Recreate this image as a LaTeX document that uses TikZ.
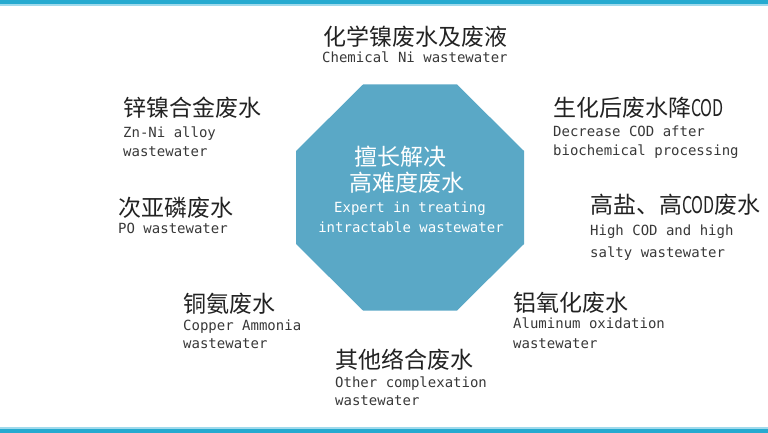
\documentclass[tikz,border=0pt]{standalone}
\usepackage{fontspec}
\usepackage{xcolor}
\newfontfamily\cjkfont{Noto Sans CJK SC}
\newfontfamily\enmono{DejaVu Sans Mono}
\definecolor{barcyan}{RGB}{38,170,208}
\definecolor{barlight}{RGB}{160,218,236}
\definecolor{octblue}{RGB}{90,168,198}
\definecolor{inkgray}{RGB}{34,34,34}
\newcommand{\narrowcod}{\scalebox{0.7}[1]{COD}}
\begin{document}
\begin{tikzpicture}[x=1pt,y=-1pt,
  cntext/.style={inner sep=0pt,anchor=west,text=inkgray,font=\cjkfont\fontsize{23}{23}\selectfont},
  entext/.style={inner sep=0pt,anchor=base west,text=inkgray!90,font=\enmono\fontsize{14}{14}\selectfont},
  cncore/.style={inner sep=0pt,text=white,font=\cjkfont\fontsize{23}{23}\selectfont},
  encore/.style={inner sep=0pt,anchor=base,text=white,font=\enmono\fontsize{14}{14}\selectfont}]
\useasboundingbox (0,0) rectangle (768,433);
% frame bars
\fill[barcyan] (0,0) rectangle (768,4.5);
\fill[barlight] (0,4.5) rectangle (768,6);
\fill[barlight] (0,427) rectangle (768,428.5);
\fill[barcyan] (0,428.5) rectangle (768,433);
% octagon
\fill[octblue] (363,84.5) -- (457,84.5) -- (524,151) -- (524,244) -- (457,310.5)
  -- (363,310.5) -- (296,244) -- (296,151) -- cycle;
\node[cncore] (core1) at (400,157) {擅长解决};
\node[cncore] (core2) at (407,183) {高难度废水};
\node[encore] (core3) at (410,212) {Expert in treating};
\node[encore] (core4) at (411,232) {intractable wastewater};
% top
\node[cntext] (ni) at (323,37) {化学镍废水及废液};
\node[entext] (ni1) at (322,63) {Chemical Ni wastewater};
% left side
\node[cntext] (znni) at (123,108) {锌镍合金废水};
\node[entext] (znni1) at (123,138) {Zn-Ni alloy};
\node[entext] (znni2) at (123,157) {wastewater};
\node[cntext] (po) at (118,208) {次亚磷废水};
\node[entext] (po1) at (118,233) {PO wastewater};
\node[cntext] (cu) at (183,304) {铜氨废水};
\node[entext] (cu1) at (183,330) {Copper Ammonia};
\node[entext] (cu2) at (183,348) {wastewater};
% bottom
\node[cntext] (cplx) at (335,360) {其他络合废水};
\node[entext] (cplx1) at (335,387) {Other complexation};
\node[entext] (cplx2) at (335,405) {wastewater};
% right side
\node[cntext] (al) at (513,303) {铝氧化废水};
\node[entext] (al1) at (513,328) {Aluminum oxidation};
\node[entext] (al2) at (513,348) {wastewater};
\node[cntext] (cod) at (553,108) {生化后废水降\narrowcod};
\node[entext] (cod1) at (553,137) {Decrease COD after};
\node[entext] (cod2) at (553,156) {biochemical processing};
\node[cntext] (salt) at (590,205) {高盐、高\narrowcod 废水};
\node[entext] (salt1) at (590,235) {High COD and high};
\node[entext] (salt2) at (590,257) {salty wastewater};
\end{tikzpicture}
\end{document}
